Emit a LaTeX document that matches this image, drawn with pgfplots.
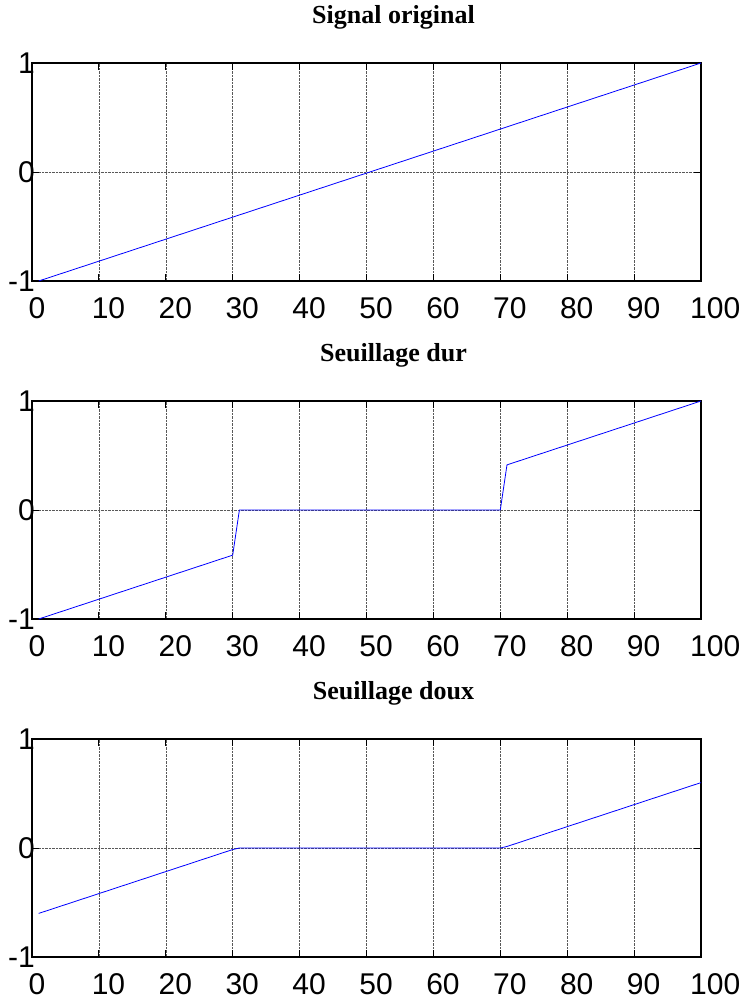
\documentclass[border=0pt]{standalone}
\usepackage{pgfplots}
\pgfplotsset{compat=1.18}
\usepackage{pgfplotstable}
\usepackage{fontspec}
\setmainfont{Liberation Sans}
\newfontfamily\titlefont{Liberation Serif}

% x tick label set a little to the right of its tick
\newcommand\xlab[1]{\setbox0\hbox{#1}\hspace*{-0.22\wd0}\box0}

% ramp signal and its hard / soft thresholded versions (threshold 0.4)
\pgfplotstableread{
x orig hard soft
1 -1.0000 -1.0000 -0.6000
2 -0.9798 -0.9798 -0.5798
3 -0.9596 -0.9596 -0.5596
4 -0.9394 -0.9394 -0.5394
5 -0.9192 -0.9192 -0.5192
6 -0.8990 -0.8990 -0.4990
7 -0.8788 -0.8788 -0.4788
8 -0.8586 -0.8586 -0.4586
9 -0.8384 -0.8384 -0.4384
10 -0.8182 -0.8182 -0.4182
11 -0.7980 -0.7980 -0.3980
12 -0.7778 -0.7778 -0.3778
13 -0.7576 -0.7576 -0.3576
14 -0.7374 -0.7374 -0.3374
15 -0.7172 -0.7172 -0.3172
16 -0.6970 -0.6970 -0.2970
17 -0.6768 -0.6768 -0.2768
18 -0.6566 -0.6566 -0.2566
19 -0.6364 -0.6364 -0.2364
20 -0.6162 -0.6162 -0.2162
21 -0.5960 -0.5960 -0.1960
22 -0.5758 -0.5758 -0.1758
23 -0.5556 -0.5556 -0.1556
24 -0.5354 -0.5354 -0.1354
25 -0.5152 -0.5152 -0.1152
26 -0.4949 -0.4949 -0.0949
27 -0.4747 -0.4747 -0.0747
28 -0.4545 -0.4545 -0.0545
29 -0.4343 -0.4343 -0.0343
30 -0.4141 -0.4141 -0.0141
31 -0.3939 0 0
32 -0.3737 0 0
33 -0.3535 0 0
34 -0.3333 0 0
35 -0.3131 0 0
36 -0.2929 0 0
37 -0.2727 0 0
38 -0.2525 0 0
39 -0.2323 0 0
40 -0.2121 0 0
41 -0.1919 0 0
42 -0.1717 0 0
43 -0.1515 0 0
44 -0.1313 0 0
45 -0.1111 0 0
46 -0.0909 0 0
47 -0.0707 0 0
48 -0.0505 0 0
49 -0.0303 0 0
50 -0.0101 0 0
51 0.0101 0 0
52 0.0303 0 0
53 0.0505 0 0
54 0.0707 0 0
55 0.0909 0 0
56 0.1111 0 0
57 0.1313 0 0
58 0.1515 0 0
59 0.1717 0 0
60 0.1919 0 0
61 0.2121 0 0
62 0.2323 0 0
63 0.2525 0 0
64 0.2727 0 0
65 0.2929 0 0
66 0.3131 0 0
67 0.3333 0 0
68 0.3535 0 0
69 0.3737 0 0
70 0.3939 0 0
71 0.4141 0.4141 0.0141
72 0.4343 0.4343 0.0343
73 0.4545 0.4545 0.0545
74 0.4747 0.4747 0.0747
75 0.4949 0.4949 0.0949
76 0.5152 0.5152 0.1152
77 0.5354 0.5354 0.1354
78 0.5556 0.5556 0.1556
79 0.5758 0.5758 0.1758
80 0.5960 0.5960 0.1960
81 0.6162 0.6162 0.2162
82 0.6364 0.6364 0.2364
83 0.6566 0.6566 0.2566
84 0.6768 0.6768 0.2768
85 0.6970 0.6970 0.2970
86 0.7172 0.7172 0.3172
87 0.7374 0.7374 0.3374
88 0.7576 0.7576 0.3576
89 0.7778 0.7778 0.3778
90 0.7980 0.7980 0.3980
91 0.8182 0.8182 0.4182
92 0.8384 0.8384 0.4384
93 0.8586 0.8586 0.4586
94 0.8788 0.8788 0.4788
95 0.8990 0.8990 0.4990
96 0.9192 0.9192 0.5192
97 0.9394 0.9394 0.5394
98 0.9596 0.9596 0.5596
99 0.9798 0.9798 0.5798
100 1.0000 1.0000 0.6000
}\sigtable

\pgfplotsset{
  panel/.style={
    scale only axis, width=669pt, height=218pt,
    xmin=0, xmax=100, ymin=-1, ymax=1,
    xtick={0,10,...,100}, ytick={-1,0,1}, yticklabels={-1,0,1},
    xticklabel={\xlab{\pgfmathprintnumber{\tick}}},
    grid=major,
    major grid style={densely dotted, black!65, line width=0.6pt},
    axis line style={line width=1.1pt},
    tick align=inside, major tick length=7pt,
    tick style={black, line width=1pt},
    /pgf/number format/assume math mode=true,
    ticklabel style={font=\fontsize{30}{31}\selectfont},
    xticklabel style={inner sep=0pt, anchor=north west, yshift=-16pt},
    yticklabel style={inner sep=0pt, anchor=east, xshift=3pt},
    title style={font=\titlefont\bfseries\fontsize{26}{28}\selectfont,
      at={(0.5,1)}, anchor=base, xshift=27pt, yshift=34pt},
    clip=false,
  },
  sig/.style={blue, line width=0.8pt, mark=none},
}

\begin{document}
\begin{tikzpicture}
\begin{axis}[panel, at={(0pt,0pt)}, anchor=north west,
  title={Signal original}]
  \addplot[sig] table[x=x, y=orig] {\sigtable};
\end{axis}
\begin{axis}[panel, at={(0pt,-338pt)}, anchor=north west,
  title={Seuillage dur}]
  \addplot[sig] table[x=x, y=hard] {\sigtable};
\end{axis}
\begin{axis}[panel, at={(0pt,-676pt)}, anchor=north west,
  title={Seuillage doux}]
  \addplot[sig] table[x=x, y=soft] {\sigtable};
\end{axis}
\pgfresetboundingbox
\useasboundingbox (-32pt,63pt) rectangle (715pt,-936pt);
\end{tikzpicture}
\end{document}
